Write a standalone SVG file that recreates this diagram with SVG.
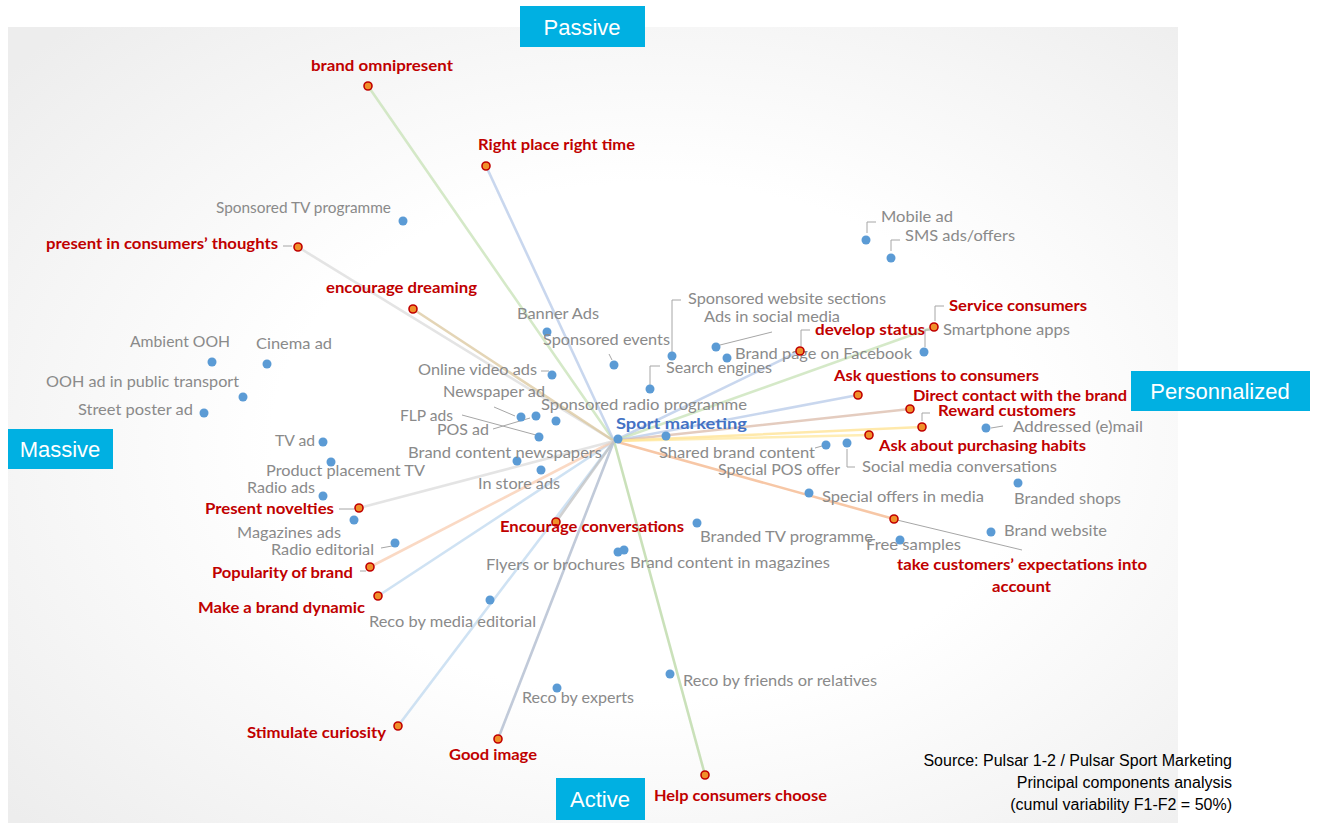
<svg xmlns="http://www.w3.org/2000/svg" width="1317" height="823" viewBox="0 0 1317 823">
  <defs>
    <radialGradient id="panelShade" cx="0.55" cy="0.52" r="0.72">
      <stop offset="0.45" stop-color="#ffffff"/>
      <stop offset="1" stop-color="#ededed"/>
    </radialGradient>
    <style>
      .g { font-family: Lato, "Open Sans", "Liberation Sans", sans-serif; font-size: 16px; fill: #8a8a8a; }
      .r { font-family: Lato, "Open Sans", "Liberation Sans", sans-serif; font-size: 15px; font-weight: bold; fill: #c00000; }
      .c { font-family: Lato, "Open Sans", "Liberation Sans", sans-serif; font-size: 16px; font-weight: bold; fill: #4472c4; }
      .ax { font-family: "Liberation Sans", Arial, sans-serif; font-size: 22px; fill: #ffffff; text-anchor: middle; }
      .axbox { fill: #00b0e2; }
      .src { font-family: "Liberation Sans", Arial, sans-serif; font-size: 16px; fill: #000000; text-anchor: end; }
      .d { fill: #5b9bd5; }
      .rd { fill: #f0902a; stroke: #c00000; stroke-width: 1.6; }
      .lead { stroke: #a6a6a6; stroke-width: 1; fill: none; }
      .v { stroke-width: 2.6; stroke-linecap: round; opacity: 0.72; fill: none; }
    </style>
  </defs>

  <!-- background -->
  <rect x="0" y="0" width="1317" height="823" fill="#ffffff"/>
  <rect x="8" y="27" width="1170" height="796" fill="url(#panelShade)"/>

  <!-- vectors from the centre to the red variables -->
  <g id="connectors">
    <line class="v" x1="614" y1="441" x2="368" y2="86" stroke="#c5e0b3"/>
    <line class="v" x1="614" y1="441" x2="486" y2="166" stroke="#b4c7e7"/>
    <line class="v" x1="614" y1="441" x2="298" y2="247" stroke="#d9d9d9"/>
    <line class="v" x1="614" y1="441" x2="413" y2="309" stroke="#d9c59a"/>
    <line class="v" x1="614" y1="441" x2="800" y2="351" stroke="#b4c7e7" stroke-width="4"/>
    <line class="v" x1="614" y1="441" x2="934" y2="327" stroke="#c5e0b3"/>
    <line class="v" x1="614" y1="441" x2="858" y2="395" stroke="#b4c7e7" stroke-width="4"/>
    <line class="v" x1="614" y1="441" x2="910" y2="409" stroke="#d9b8a6" stroke-width="4"/>
    <line class="v" x1="614" y1="441" x2="922" y2="427" stroke="#ffe08a" stroke-width="5"/>
    <line class="v" x1="614" y1="441" x2="869" y2="435" stroke="#ffe699" stroke-width="4"/>
    <line class="v" x1="614" y1="441" x2="894" y2="519" stroke="#f4b183"/>
    <line class="v" x1="614" y1="441" x2="705" y2="775" stroke="#b5d6a0"/>
    <line class="v" x1="614" y1="441" x2="498" y2="739" stroke="#a9b6cb"/>
    <line class="v" x1="614" y1="441" x2="398" y2="726" stroke="#bdd7ee"/>
    <line class="v" x1="614" y1="441" x2="378" y2="596" stroke="#bdd7ee"/>
    <line class="v" x1="614" y1="441" x2="370" y2="567" stroke="#f8cbad"/>
    <line class="v" x1="614" y1="441" x2="359" y2="508" stroke="#d9d9d9"/>
    <line class="v" x1="614" y1="441" x2="556" y2="522" stroke="#bfbfbf"/>

    <!-- label leaders -->
    <path class="lead" d="M283 246 H292"/>
    <path class="lead" d="M867 233 V222 H876"/>
    <path class="lead" d="M891 251 V240 H900"/>
    <path class="lead" d="M672 352 V300 H681"/>
    <path class="lead" d="M720 345 L772 332"/>
    <path class="lead" d="M609 354 L612 360"/>
    <path class="lead" d="M650 385 V366 H660"/>
    <path class="lead" d="M801 346 V330 H810"/>
    <path class="lead" d="M925 347 V330 H930"/>
    <path class="lead" d="M935 321 V306 H944"/>
    <path class="lead" d="M541 371 H549"/>
    <path class="lead" d="M494 407 L515 416"/>
    <path class="lead" d="M462 415 L536 435"/>
    <path class="lead" d="M493 429 L530 418"/>
    <path class="lead" d="M815 448 L822 446"/>
    <path class="lead" d="M847 449 V467 H855"/>
    <path class="lead" d="M922 421 V413 H930"/>
    <path class="lead" d="M991 428 L1003 426"/>
    <path class="lead" d="M339 509 H354"/>
    <path class="lead" d="M381 548 L392 546"/>
    <path class="lead" d="M360 571 H366"/>
    <path class="lead" d="M897 520 L1022 550"/>
  </g>

  <!-- axis captions -->
  <g id="axis-passive"><rect class="axbox" x="520" y="6" width="125" height="41"/><text class="ax" x="582" y="35">Passive</text></g>
  <g id="axis-massive"><rect class="axbox" x="8" y="429" width="105" height="40"/><text class="ax" x="60" y="457">Massive</text></g>
  <g id="axis-personnalized"><rect class="axbox" x="1131" y="371" width="179" height="40"/><text class="ax" x="1220" y="399">Personnalized</text></g>
  <g id="axis-active"><rect class="axbox" x="556" y="778" width="89" height="42"/><text class="ax" x="600" y="807">Active</text></g>

  <!-- centre -->
  <g id="sport-marketing"><circle class="d" cx="618" cy="439" r="4.5"/><text class="c" x="616" y="429" textLength="131" lengthAdjust="spacingAndGlyphs">Sport marketing</text></g>

  <!-- media (blue points) -->
  <g id="sponsored-tv"><circle class="d" cx="403" cy="221" r="4.5"/><text class="g" x="216" y="213" textLength="175" lengthAdjust="spacingAndGlyphs">Sponsored TV programme</text></g>
  <g id="mobile-ad"><circle class="d" cx="866" cy="240" r="4.5"/><text class="g" x="881" y="222" textLength="72" lengthAdjust="spacingAndGlyphs">Mobile ad</text></g>
  <g id="sms-ads"><circle class="d" cx="891" cy="258" r="4.5"/><text class="g" x="905" y="241" textLength="110" lengthAdjust="spacingAndGlyphs">SMS ads/offers</text></g>
  <g id="sponsored-website"><circle class="d" cx="672" cy="356" r="4.5"/><text class="g" x="688" y="304" textLength="198" lengthAdjust="spacingAndGlyphs">Sponsored website sections</text></g>
  <g id="ads-social"><circle class="d" cx="716" cy="347" r="4.5"/><text class="g" x="704" y="322" textLength="136" lengthAdjust="spacingAndGlyphs">Ads in social media</text></g>
  <g id="banner-ads"><circle class="d" cx="547" cy="332" r="4.5"/><text class="g" x="517" y="319" textLength="82" lengthAdjust="spacingAndGlyphs">Banner Ads</text></g>
  <g id="smartphone-apps"><circle class="d" cx="924" cy="352" r="4.5"/><text class="g" x="943" y="335" textLength="127" lengthAdjust="spacingAndGlyphs">Smartphone apps</text></g>
  <g id="sponsored-events"><circle class="d" cx="614" cy="365" r="4.5"/><text class="g" x="543" y="345" textLength="127" lengthAdjust="spacingAndGlyphs">Sponsored events</text></g>
  <g id="brand-facebook"><circle class="d" cx="727" cy="358" r="4.5"/><text class="g" x="735" y="359" textLength="177" lengthAdjust="spacingAndGlyphs">Brand page on Facebook</text></g>
  <g id="ambient-ooh"><circle class="d" cx="212" cy="362" r="4.5"/><text class="g" x="130" y="347" textLength="100" lengthAdjust="spacingAndGlyphs">Ambient OOH</text></g>
  <g id="cinema-ad"><circle class="d" cx="267" cy="364" r="4.5"/><text class="g" x="256" y="349" textLength="76" lengthAdjust="spacingAndGlyphs">Cinema ad</text></g>
  <g id="online-video"><circle class="d" cx="552" cy="375" r="4.5"/><text class="g" x="418" y="375" textLength="119" lengthAdjust="spacingAndGlyphs">Online video ads</text></g>
  <g id="search-engines"><circle class="d" cx="650" cy="389" r="4.5"/><text class="g" x="666" y="373" textLength="106" lengthAdjust="spacingAndGlyphs">Search engines</text></g>
  <g id="ooh-transport"><circle class="d" cx="243" cy="397" r="4.5"/><text class="g" x="46" y="387" textLength="193" lengthAdjust="spacingAndGlyphs">OOH ad in public transport</text></g>
  <g id="newspaper-ad"><circle class="d" cx="521" cy="417" r="4.5"/><text class="g" x="443" y="397" textLength="102" lengthAdjust="spacingAndGlyphs">Newspaper ad</text></g>
  <g id="sponsored-radio"><circle class="d" cx="556" cy="421" r="4.5"/><text class="g" x="541" y="410" textLength="206" lengthAdjust="spacingAndGlyphs">Sponsored radio programme</text></g>
  <g id="street-poster"><circle class="d" cx="204" cy="413" r="4.5"/><text class="g" x="78" y="415" textLength="115" lengthAdjust="spacingAndGlyphs">Street poster ad</text></g>
  <g id="flp-ads"><circle class="d" cx="539" cy="437" r="4.5"/><text class="g" x="400" y="421" textLength="53" lengthAdjust="spacingAndGlyphs">FLP ads</text></g>
  <g id="pos-ad"><circle class="d" cx="536" cy="416" r="4.5"/><text class="g" x="437" y="435" textLength="52" lengthAdjust="spacingAndGlyphs">POS ad</text></g>
  <g id="addressed-email"><circle class="d" cx="986" cy="428" r="4.5"/><text class="g" x="1013" y="432" textLength="130" lengthAdjust="spacingAndGlyphs">Addressed (e)mail</text></g>
  <g id="tv-ad"><circle class="d" cx="323" cy="442" r="4.5"/><text class="g" x="275" y="446" textLength="40" lengthAdjust="spacingAndGlyphs">TV ad</text></g>
  <g id="brand-content-newspapers"><circle class="d" cx="517" cy="461" r="4.5"/><text class="g" x="408" y="458" textLength="194" lengthAdjust="spacingAndGlyphs">Brand content newspapers</text></g>
  <g id="shared-brand-content"><circle class="d" cx="826" cy="445" r="4.5"/><text class="g" x="659" y="458" textLength="156" lengthAdjust="spacingAndGlyphs">Shared brand content</text></g>
  <g id="social-conversations"><circle class="d" cx="847" cy="443" r="4.5"/><text class="g" x="862" y="472" textLength="195" lengthAdjust="spacingAndGlyphs">Social media conversations</text></g>
  <g id="special-pos"><circle class="d" cx="666" cy="436" r="4.5"/><text class="g" x="718" y="475" textLength="122" lengthAdjust="spacingAndGlyphs">Special POS offer</text></g>
  <g id="product-placement"><circle class="d" cx="331" cy="462" r="4.5"/><text class="g" x="266" y="476" textLength="159" lengthAdjust="spacingAndGlyphs">Product placement TV</text></g>
  <g id="in-store"><circle class="d" cx="541" cy="470" r="4.5"/><text class="g" x="478" y="489" textLength="82" lengthAdjust="spacingAndGlyphs">In store ads</text></g>
  <g id="radio-ads"><circle class="d" cx="323" cy="496" r="4.5"/><text class="g" x="247" y="493" textLength="68" lengthAdjust="spacingAndGlyphs">Radio ads</text></g>
  <g id="special-offers-media"><circle class="d" cx="809" cy="493" r="4.5"/><text class="g" x="822" y="502" textLength="162" lengthAdjust="spacingAndGlyphs">Special offers in media</text></g>
  <g id="branded-shops"><circle class="d" cx="1018" cy="483" r="4.5"/><text class="g" x="1014" y="504" textLength="107" lengthAdjust="spacingAndGlyphs">Branded shops</text></g>
  <g id="brand-website"><circle class="d" cx="991" cy="532" r="4.5"/><text class="g" x="1004" y="536" textLength="103" lengthAdjust="spacingAndGlyphs">Brand website</text></g>
  <g id="magazines-ads"><circle class="d" cx="354" cy="520" r="4.5"/><text class="g" x="237" y="538" textLength="104" lengthAdjust="spacingAndGlyphs">Magazines ads</text></g>
  <g id="branded-tv"><circle class="d" cx="697" cy="523" r="4.5"/><text class="g" x="700" y="542" textLength="173" lengthAdjust="spacingAndGlyphs">Branded TV programme</text></g>
  <g id="free-samples"><circle class="d" cx="900" cy="540" r="4.5"/><text class="g" x="866" y="550" textLength="95" lengthAdjust="spacingAndGlyphs">Free samples</text></g>
  <g id="radio-editorial"><circle class="d" cx="395" cy="543" r="4.5"/><text class="g" x="271" y="555" textLength="103" lengthAdjust="spacingAndGlyphs">Radio editorial</text></g>
  <g id="brand-content-magazines"><circle class="d" cx="624" cy="550" r="4.5"/><text class="g" x="630" y="568" textLength="200" lengthAdjust="spacingAndGlyphs">Brand content in magazines</text></g>
  <g id="flyers"><circle class="d" cx="618" cy="552" r="4.5"/><text class="g" x="486" y="570" textLength="139" lengthAdjust="spacingAndGlyphs">Flyers or brochures</text></g>
  <g id="reco-media"><circle class="d" cx="490" cy="600" r="4.5"/><text class="g" x="369" y="627" textLength="167" lengthAdjust="spacingAndGlyphs">Reco by media editorial</text></g>
  <g id="reco-friends"><circle class="d" cx="670" cy="674" r="4.5"/><text class="g" x="683" y="686" textLength="194" lengthAdjust="spacingAndGlyphs">Reco by friends or relatives</text></g>
  <g id="reco-experts"><circle class="d" cx="557" cy="688" r="4.5"/><text class="g" x="522" y="703" textLength="112" lengthAdjust="spacingAndGlyphs">Reco by experts</text></g>

  <!-- expectations (red points) -->
  <g id="brand-omnipresent"><circle class="rd" cx="368" cy="86" r="4"/><text class="r" x="311" y="71" textLength="142" lengthAdjust="spacingAndGlyphs">brand omnipresent</text></g>
  <g id="right-place"><circle class="rd" cx="486" cy="166" r="4"/><text class="r" x="478" y="150" textLength="157" lengthAdjust="spacingAndGlyphs">Right place right time</text></g>
  <g id="consumers-thoughts"><circle class="rd" cx="298" cy="247" r="4"/><text class="r" x="46" y="249" textLength="232" lengthAdjust="spacingAndGlyphs">present in consumers’ thoughts</text></g>
  <g id="encourage-dreaming"><circle class="rd" cx="413" cy="309" r="4"/><text class="r" x="326" y="293" textLength="151" lengthAdjust="spacingAndGlyphs">encourage dreaming</text></g>
  <g id="service-consumers"><circle class="rd" cx="934" cy="327" r="4"/><text class="r" x="949" y="311" textLength="138" lengthAdjust="spacingAndGlyphs">Service consumers</text></g>
  <g id="develop-status"><circle class="rd" cx="800" cy="351" r="4"/><text class="r" x="815" y="335" textLength="110" lengthAdjust="spacingAndGlyphs">develop status</text></g>
  <g id="ask-questions"><circle class="rd" cx="858" cy="395" r="4"/><text class="r" x="834" y="381" textLength="205" lengthAdjust="spacingAndGlyphs">Ask questions to consumers</text></g>
  <g id="direct-contact"><circle class="rd" cx="910" cy="409" r="4"/><text class="r" x="913" y="401" textLength="214" lengthAdjust="spacingAndGlyphs">Direct contact with the brand</text></g>
  <g id="reward-customers"><circle class="rd" cx="922" cy="427" r="4"/><text class="r" x="938" y="416" textLength="138" lengthAdjust="spacingAndGlyphs">Reward customers</text></g>
  <g id="purchasing-habits"><circle class="rd" cx="869" cy="435" r="4"/><text class="r" x="879" y="451" textLength="207" lengthAdjust="spacingAndGlyphs">Ask about purchasing habits</text></g>
  <g id="present-novelties"><circle class="rd" cx="359" cy="508" r="4"/><text class="r" x="205" y="514" textLength="129" lengthAdjust="spacingAndGlyphs">Present novelties</text></g>
  <g id="encourage-conversations"><circle class="rd" cx="556" cy="522" r="4"/><text class="r" x="500" y="532" textLength="184" lengthAdjust="spacingAndGlyphs">Encourage conversations</text></g>
  <g id="customer-expectations"><circle class="rd" cx="894" cy="519" r="4"/><text class="r" x="897" y="570" textLength="250" lengthAdjust="spacingAndGlyphs">take customers’ expectations into</text><text class="r" x="992" y="592" textLength="59" lengthAdjust="spacingAndGlyphs">account</text></g>
  <g id="popularity"><circle class="rd" cx="370" cy="567" r="4"/><text class="r" x="212" y="578" textLength="141" lengthAdjust="spacingAndGlyphs">Popularity of brand</text></g>
  <g id="brand-dynamic"><circle class="rd" cx="378" cy="596" r="4"/><text class="r" x="198" y="613" textLength="167" lengthAdjust="spacingAndGlyphs">Make a brand dynamic</text></g>
  <g id="stimulate-curiosity"><circle class="rd" cx="398" cy="726" r="4"/><text class="r" x="247" y="738" textLength="139" lengthAdjust="spacingAndGlyphs">Stimulate curiosity</text></g>
  <g id="good-image"><circle class="rd" cx="498" cy="739" r="4"/><text class="r" x="449" y="760" textLength="88" lengthAdjust="spacingAndGlyphs">Good image</text></g>
  <g id="help-choose"><circle class="rd" cx="705" cy="775" r="4"/><text class="r" x="654" y="801" textLength="173" lengthAdjust="spacingAndGlyphs">Help consumers choose</text></g>

  <!-- source note -->
  <g id="source">
    <text class="src" x="1232" y="766">Source: Pulsar 1-2 / Pulsar Sport Marketing</text>
    <text class="src" x="1232" y="788">Principal components analysis</text>
    <text class="src" x="1232" y="810">(cumul variability F1-F2 = 50%)</text>
  </g>
</svg>
